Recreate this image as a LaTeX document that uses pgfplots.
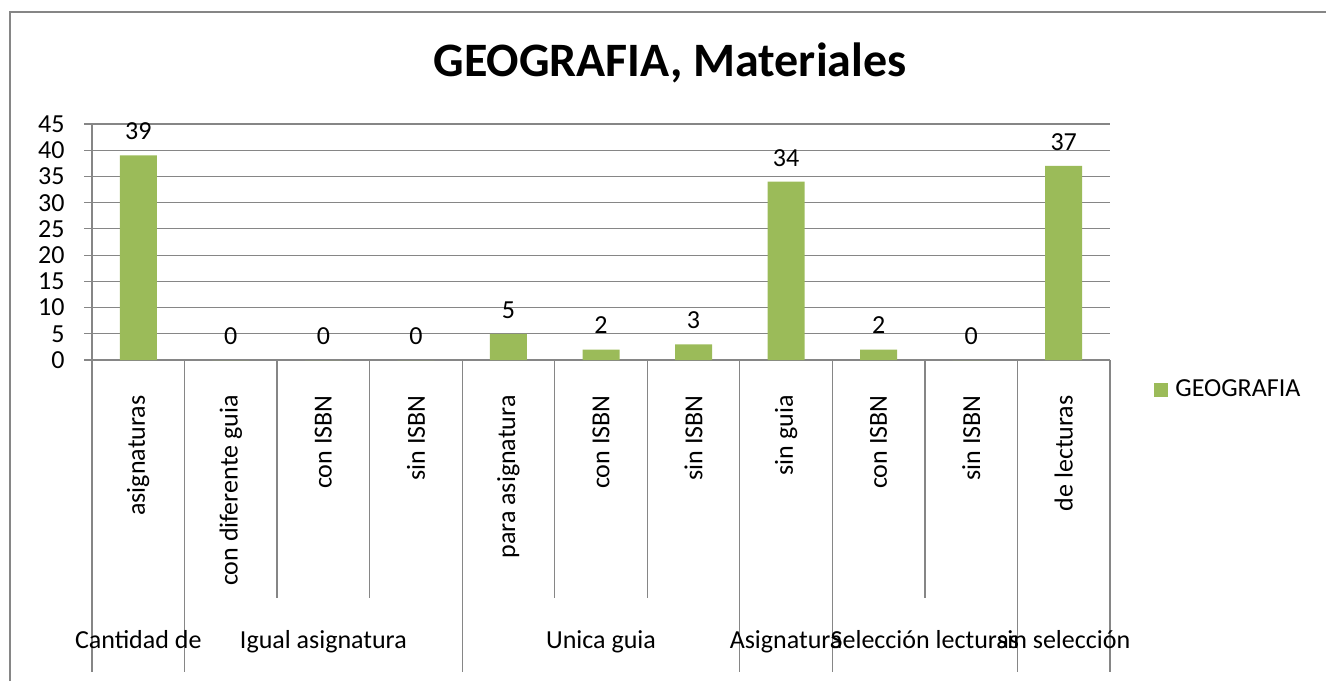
\documentclass[border=0pt]{standalone}
\usepackage{pgfplots}
\pgfplotsset{compat=1.18}
\usepackage{fontspec}
\setmainfont{Carlito}
\definecolor{bargreen}{HTML}{9BBB59}
\definecolor{gridgray}{HTML}{868686}
\begin{document}
\begin{tikzpicture}
\path[use as bounding box] (0,0) rectangle (663pt,340.5pt);
\draw[gridgray, line width=1pt] (5pt,0) -- (5pt,334.5pt) -- (663pt,334.5pt);
\node[font=\fontsize{24}{28}\selectfont\bfseries, anchor=base] at (335pt,302pt) {GEOGRAFIA, Materiales};
\begin{axis}[
  at={(46pt,160.5pt)}, anchor=south west,
  scale only axis, width=509pt, height=118pt,
  xmin=-0.5, xmax=10.5, ymin=0, ymax=45,
  ytick={0,5,...,45},
  axis x line*=bottom, axis y line*=left,
  axis line style={gridgray, line width=0.6pt},
  ymajorgrids, grid style={gridgray, line width=0.6pt},
  tick style={gridgray, line width=0.6pt},
  major tick length=4pt, tick align=outside,
  xtick={0,...,10},
  x tick style={draw=none},
  xticklabels={asignaturas, con diferente guia, con ISBN, sin ISBN, para asignatura, con ISBN, sin ISBN, sin guia, con ISBN, sin ISBN, de lecturas},
  x tick label style={rotate=90, anchor=east, inner sep=0pt, font=\fontsize{13}{15}\selectfont},
  xticklabel shift=13.5pt,
  y tick label style={anchor=east, inner sep=0pt, font=\fontsize{13}{15}\selectfont},
  yticklabel shift=9.5pt,
  /pgf/number format/assume math mode=true,
  ybar, bar width=18.5pt,
  nodes near coords,
  every node near coord/.append style={anchor=center, yshift=12pt, font=\fontsize{13}{15}\selectfont, text=black},
  clip=false,
  legend style={at={(1.0432,-0.127)}, anchor=west, draw=none, fill=none, inner sep=0pt, font=\fontsize{13}{15}\selectfont, nodes={inner sep=2pt}},
  legend image code/.code={\fill[#1] (0pt,-3.5pt) rectangle (7pt,3.5pt);},
]
\addplot[fill=bargreen, draw=none] coordinates {(0,39) (1,0) (2,0) (3,0) (4,5) (5,2) (6,3) (7,34) (8,2) (9,0) (10,37)};
\addlegendentry{\hspace{1.5pt}GEOGRAFIA}
\foreach \xx in {1.5,2.5,4.5,5.5,8.5} {
  \edef\tmp{\noexpand\draw[gridgray, line width=0.6pt] (axis cs:\xx,0) -- ++(0pt,-119pt);}\tmp
}
\foreach \xx in {-0.5,0.5,3.5,6.5,7.5,9.5,10.5} {
  \edef\tmp{\noexpand\draw[gridgray, line width=0.6pt] (axis cs:\xx,0) -- ++(0pt,-156pt);}\tmp
}
\foreach \xx/\lab in {0/Cantidad de, 2/Igual asignatura, 5/Unica guia, 7/Asignatura, 8.5/Selección lecturas, 10/sin selección} {
  \edef\tmp{\noexpand\node[anchor=base, font=\noexpand\fontsize{13}{15}\noexpand\selectfont, inner sep=0pt] at (axis cs:\xx,0) [yshift=-144pt] {\lab};}\tmp
}
\end{axis}
\end{tikzpicture}
\end{document}
